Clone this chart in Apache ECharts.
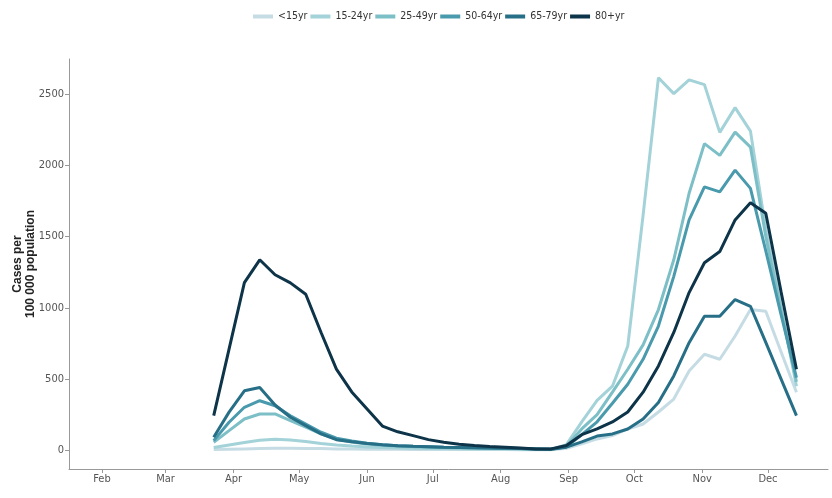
<!DOCTYPE html>
<html>
<head>
<meta charset="utf-8">
<script src="https://cdn.jsdelivr.net/npm/echarts@6/dist/echarts.min.js"></script>
<style>
html,body{margin:0;padding:0;background:#fff;}
#chart{width:832px;height:498px;}
</style>
</head>
<body>
<div id="chart"></div>
<script>
// Week start, as day of year 2020 (0 = 1 Jan)
const weekDay = [82,89,96,103,110,117,124,131,138,145,152,159,166,173,180,187,194,201,208,215,222,229,236,243,250,257,264,271,278,285,292,299,306,313,320,327,334,341,348];

const seriesNames = ['<15yr','15-24yr','25-49yr','50-64yr','65-79yr','80+yr'];

const under15 = [5,8,10,12,14,14,13,12,10,9,8,7,7,6,6,5,5,5,5,5,4,4,4,15,45,80,103,150,185,269,360,557,674,639,802,988,976,690,408];
const age15_24 = [20,38,55,70,78,72,62,48,38,30,24,20,17,15,13,12,11,10,10,9,8,7,7,40,200,350,450,732,1650,2615,2503,2600,2566,2231,2405,2240,1550,1000,450];
const age25_49 = [57,138,220,255,255,208,162,115,78,58,45,36,30,26,23,20,18,16,15,13,11,9,8,30,150,250,408,569,740,988,1337,1804,2152,2070,2233,2128,1500,980,480];
const age50_64 = [68,197,302,348,313,243,185,127,85,65,50,40,33,28,25,22,20,18,16,14,12,10,8,25,110,200,330,464,639,872,1221,1617,1849,1814,1966,1838,1400,950,510];
const age65_79 = [92,268,418,441,318,232,173,115,75,60,48,40,33,28,25,22,20,18,17,15,12,10,8,22,59,100,115,150,220,336,522,755,941,941,1058,1011,757,500,243];
const age80plus = [243,710,1177,1337,1232,1175,1095,827,570,410,290,170,130,103,75,57,43,34,27,22,17,10,10,34,110,150,199,269,408,592,827,1107,1316,1395,1617,1738,1663,1110,569];

const monthDays = [31,60,91,121,152,182,213,244,274,305,335];
const monthLabels = ['Feb','Mar','Apr','May','Jun','Jul','Aug','Sep','Oct','Nov','Dec'];
const yTicks = [0,500,1000,1500,2000,2500];

const colors = ['#c6dce4','#a3d2d8','#7dbfc7','#4a9aad','#276f87','#0d3449'];
const allValues = [under15, age15_24, age25_49, age50_64, age65_79, age80plus];

const FONT = "'Liberation Sans Narrow', 'DejaVu Sans Condensed', 'Roboto', sans-serif";

const chart = echarts.init(document.getElementById('chart'));
chart.setOption({
  animation: false,
  backgroundColor: '#fff',
  color: colors,
  legend: {
    top: 6,
    left: 248,
    icon: 'rect',
    itemWidth: 20,
    itemHeight: 4,
    itemGap: 3,
    textStyle: {fontFamily: FONT, fontSize: 10.5, color: '#333'},
    data: seriesNames
  },
  grid: {left: 69, right: 4, top: 59, bottom: 29, containLabel: false, outerBoundsMode: 'none'},
  xAxis: {
    type: 'value',
    min: 15.94,
    max: 362.4,
    splitLine: {show: false},
    axisLine: {onZero: false, lineStyle: {color: '#999', width: 1}},
    axisTick: {show: true, length: 4, lineStyle: {color: '#999'}, customValues: monthDays},
    axisLabel: {
      customValues: monthDays,
      fontFamily: FONT, fontSize: 11, color: '#555', margin: 5,
      formatter: function (v) { const i = monthDays.indexOf(Math.round(v)); return i >= 0 ? monthLabels[i] : ''; }
    }
  },
  yAxis: {
    type: 'value',
    min: -131,
    max: 2746,
    splitLine: {show: false},
    axisLine: {show: true, lineStyle: {color: '#999', width: 1}},
    axisTick: {show: true, length: 4, lineStyle: {color: '#999'}, customValues: yTicks},
    axisLabel: {customValues: yTicks, fontFamily: FONT, fontSize: 11, color: '#555', margin: 5,
      formatter: function (v) { return String(Math.round(v)); }},
    name: 'Cases per\n100 000 population',
    nameLocation: 'middle',
    nameRotate: 90,
    nameGap: 32,
    nameMoveOverlap: false,
    nameTextStyle: {fontFamily: "'Liberation Sans', Arial, sans-serif", fontSize: 12, fontWeight: 'bold', color: '#222', lineHeight: 13}
  },
  series: seriesNames.map(function (name, i) {
    return {
      name: name,
      type: 'line',
      showSymbol: false,
      symbol: 'none',
      lineStyle: {width: 3, color: colors[i]},
      itemStyle: {color: colors[i]},
      data: weekDay.map(function (d, j) { return [d, allValues[i][j]]; })
    };
  })
});
</script>
</body>
</html>
